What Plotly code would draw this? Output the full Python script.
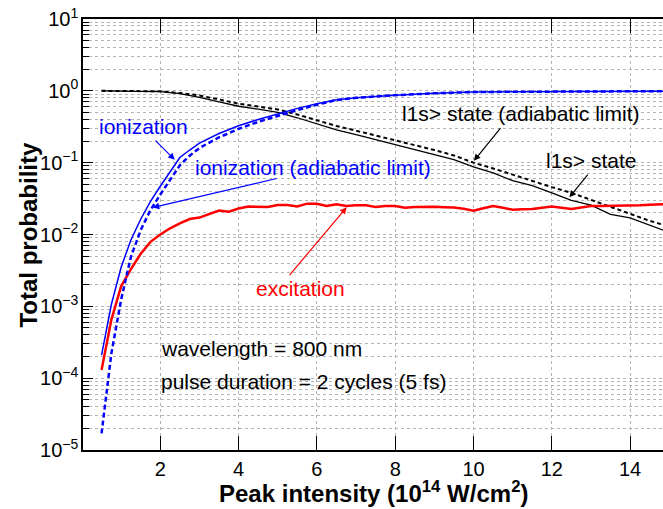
import plotly.graph_objects as go

# ---------------- data ----------------
intensity_exc = [0.5, 0.75, 1.0, 1.25, 1.5, 1.75, 2.0, 2.25, 2.5, 2.75, 3.0, 3.25, 3.5, 3.75,
                 4.0, 4.25, 4.5, 4.75, 5.0, 5.25, 5.5, 5.75, 6.0, 6.25, 6.5, 6.75, 7.0, 7.25,
                 7.5, 7.75, 8.0, 8.25, 8.5, 8.75, 9.0, 9.25, 9.5, 9.75, 10.0, 10.25, 10.5,
                 10.75, 11.0, 11.25, 11.5, 11.75, 12.0, 12.25, 12.5, 12.75, 13.0, 13.25, 13.5,
                 13.75, 14.0, 14.25, 14.5, 14.75, 15.0]
excitation = [1.3e-4, 6.5e-4, 1.9e-3, 3.3e-3, 5.4e-3, 7.9e-3, 1.0e-2, 1.22e-2, 1.43e-2, 1.64e-2,
              1.72e-2, 1.9e-2, 2.15e-2, 2.08e-2, 2.3e-2, 2.45e-2, 2.44e-2, 2.42e-2, 2.58e-2,
              2.58e-2, 2.45e-2, 2.69e-2, 2.67e-2, 2.49e-2, 2.64e-2, 2.49e-2, 2.55e-2, 2.55e-2,
              2.42e-2, 2.49e-2, 2.49e-2, 2.36e-2, 2.42e-2, 2.45e-2, 2.44e-2, 2.40e-2, 2.37e-2,
              2.28e-2, 2.15e-2, 2.32e-2, 2.49e-2, 2.35e-2, 2.21e-2, 2.24e-2, 2.26e-2, 2.36e-2,
              2.45e-2, 2.35e-2, 2.26e-2, 2.38e-2, 2.49e-2, 2.50e-2, 2.50e-2, 2.51e-2, 2.51e-2,
              2.55e-2, 2.6e-2, 2.63e-2, 2.66e-2]

intensity_ion = [0.5, 0.75, 1.0, 1.25, 1.5, 1.75, 2.0, 2.25, 2.5, 2.75, 3.0, 3.5, 4.0, 4.5, 5.0,
                 5.5, 6.0, 6.5, 7.0, 7.5, 8.0, 9.0, 10.0, 11.0, 12.0, 13.0, 14.0, 15.0]
ionization = [2.1e-4, 1.06e-3, 3.5e-3, 8.4e-3, 0.0163, 0.029, 0.047, 0.075, 0.118, 0.15, 0.187,
              0.255, 0.327, 0.40, 0.48, 0.57, 0.66, 0.75, 0.80, 0.84, 0.87, 0.925, 0.96, 0.97,
              0.975, 0.98, 0.985, 0.99]

intensity_ion_ad = [0.5, 0.6, 0.75, 1.0, 1.25, 1.5, 1.75, 2.0, 2.25, 2.5, 2.75, 3.0, 3.5, 4.0,
                    4.5, 5.0, 5.5, 6.0, 6.5, 7.0, 7.5, 8.0, 9.0, 10.0, 11.0, 12.0, 13.0, 14.0, 15.0]
ionization_adiabatic = [1.7e-5, 4.5e-5, 2.2e-4, 1.24e-3, 4.9e-3, 0.0115, 0.022, 0.036, 0.058,
                        0.092, 0.125, 0.16, 0.225, 0.295, 0.37, 0.45, 0.54, 0.64, 0.745, 0.80,
                        0.84, 0.87, 0.925, 0.96, 0.97, 0.975, 0.98, 0.985, 0.99]

intensity_gs = [0.5, 1.0, 1.5, 2.0, 2.5, 3.0, 3.5, 4.0, 4.5, 5.0, 5.5, 6.0, 6.5, 7.0, 7.5, 8.0,
                8.5, 9.0, 9.5, 10.0, 10.5, 11.0, 11.5, 12.0, 12.5, 13.0, 13.5, 14.0, 14.5, 15.0]
ground_state = [1.0, 0.998, 0.991, 0.977, 0.912, 0.813, 0.700, 0.610, 0.556, 0.501, 0.422,
                0.347, 0.286, 0.245, 0.209, 0.178, 0.153, 0.130, 0.110, 0.0871, 0.0721, 0.0562,
                0.0479, 0.0380, 0.0299, 0.0257, 0.0191, 0.0170, 0.0135, 0.0107]
ground_state_adiabatic = [1.0, 0.998, 0.993, 0.985, 0.933, 0.861, 0.759, 0.661, 0.603, 0.55,
                          0.468, 0.389, 0.324, 0.279, 0.240, 0.204, 0.176, 0.150, 0.126, 0.100,
                          0.0832, 0.0676, 0.0562, 0.0457, 0.0380, 0.0302, 0.0240, 0.0191,
                          0.0155, 0.0129]

x_tickvals = [2, 4, 6, 8, 10, 12, 14]
y_tickvals = [1e-5, 1e-4, 1e-3, 1e-2, 1e-1, 1e0, 1e1]
y_ticktext = ["10<sup>\u22125</sup>", "10<sup>\u22124</sup>", "10<sup>\u22123</sup>",
              "10<sup>\u22122</sup>", "10<sup>\u22121</sup>", "10<sup>0</sup>", "10<sup>1</sup>"]

FONT = "Liberation Sans, Arial, Helvetica, sans-serif"
GRID = "#b4b4b4"

fig = go.Figure()
fig.add_trace(go.Scatter(x=intensity_gs, y=ground_state_adiabatic, mode="lines",
                         line=dict(color="black", width=2, dash="4px,3px"), showlegend=False))
fig.add_trace(go.Scatter(x=intensity_gs, y=ground_state, mode="lines",
                         line=dict(color="black", width=1.3), showlegend=False))
fig.add_trace(go.Scatter(x=intensity_exc, y=excitation, mode="lines",
                         line=dict(color="#ff0000", width=2.5), showlegend=False))
fig.add_trace(go.Scatter(x=intensity_ion_ad, y=ionization_adiabatic, mode="lines",
                         line=dict(color="#0000ff", width=2.5, dash="5px,3px"), showlegend=False))
fig.add_trace(go.Scatter(x=intensity_ion, y=ionization, mode="lines",
                         line=dict(color="#0000ff", width=1.5), showlegend=False))

texts = [
    dict(text="ionization", x=1.566, y=-0.497, color="#0000ff", xanchor="center"),
    dict(text="ionization (adiabatic limit)", x=5.89, y=-1.063, color="#0000ff", xanchor="center"),
    dict(text="l1s&gt; state (adiabatic limit)", x=11.21, y=-0.311, color="black", xanchor="center"),
    dict(text="l1s&gt; state", x=13.0, y=-0.975, color="black", xanchor="center"),
    dict(text="excitation", x=5.57, y=-2.748, color="#ff0000", xanchor="center"),
    dict(text="wavelength = 800 nm", x=1.97, y=-3.584, color="black", xanchor="left"),
    dict(text="pulse duration = 2 cycles (5 fs)", x=1.97, y=-4.049, color="black", xanchor="left"),
]
arrows = [
    dict(x=2.37, y=-0.961, ax=1.84, ay=-0.673, color="#0000ff"),
    dict(x=1.806, y=-1.625, ax=5.01, ay=-1.216, color="#0000ff"),
    dict(x=10.01, y=-0.975, ax=10.72, ay=-0.497, color="black"),
    dict(x=12.45, y=-1.481, ax=12.95, ay=-1.146, color="black"),
    dict(x=6.76, y=-1.62, ax=5.27, ay=-2.586, color="#ff0000"),
]
annotations = []
for t in texts:
    annotations.append(dict(text=t["text"], x=t["x"], y=t["y"], xref="x", yref="y",
                            showarrow=False, xanchor=t["xanchor"], yanchor="middle",
                            font=dict(family=FONT, size=21, color=t["color"])))
for a in arrows:
    annotations.append(dict(text="", x=a["x"], y=a["y"], ax=a["ax"], ay=a["ay"],
                            xref="x", yref="y", axref="x", ayref="y", showarrow=True,
                            arrowhead=2, arrowsize=1.1, arrowwidth=1.2, arrowcolor=a["color"],
                            standoff=0, startstandoff=0))
annotations.append(dict(text="<b>Peak intensity (10<sup>14</sup> W/cm<sup>2</sup>)</b>",
                        xref="paper", yref="paper", x=0.5, y=-0.0974, xanchor="center",
                        yanchor="middle", showarrow=False,
                        font=dict(family=FONT, size=24, color="black")))
annotations.append(dict(text="<b>Total probability</b>", xref="paper", yref="paper",
                        x=-0.0948, y=0.5, xanchor="center", yanchor="middle", textangle=-90,
                        showarrow=False, font=dict(family=FONT, size=24, color="black")))

fig.update_layout(
    width=663, height=509,
    margin=dict(l=83, r=0, t=19, b=59, pad=0),
    plot_bgcolor="white", paper_bgcolor="white",
    font=dict(family=FONT, size=20, color="black"),
    annotations=annotations,
    xaxis=dict(range=[0.026, 14.84], tickvals=x_tickvals, ticks="inside", ticklen=14,
               tickwidth=1, tickcolor="black", showline=True, linecolor="black", linewidth=1.5,
               mirror="ticks", showgrid=True, gridcolor=GRID, griddash="dot", gridwidth=1,
               zeroline=False, tickfont=dict(size=20, family=FONT), automargin=False),
    yaxis=dict(type="log", range=[-5, 1], tickvals=y_tickvals, ticktext=y_ticktext,
               ticks="inside", ticklen=10, tickwidth=1, tickcolor="black", showline=True,
               linecolor="black", linewidth=1.5, mirror=False, showgrid=True, gridcolor=GRID,
               griddash="dot", gridwidth=1, zeroline=False, tickfont=dict(size=20, family=FONT),
               ticklabelstandoff=-1,
               minor=dict(dtick="D1", ticks="inside", ticklen=6, tickcolor="black",
                          showgrid=True, gridcolor=GRID, griddash="dot", gridwidth=1),
               automargin=False),
    yaxis2=dict(type="log", range=[-5, 1], overlaying="y", side="right", tickvals=y_tickvals,
                ticks="inside", ticklen=10, tickwidth=1, tickcolor="black",
                showticklabels=False, showline=False, showgrid=False, zeroline=False,
                minor=dict(dtick="D1", ticks="inside", ticklen=6, tickcolor="black",
                           showgrid=False)),
)

fig.write_html("out.html")
